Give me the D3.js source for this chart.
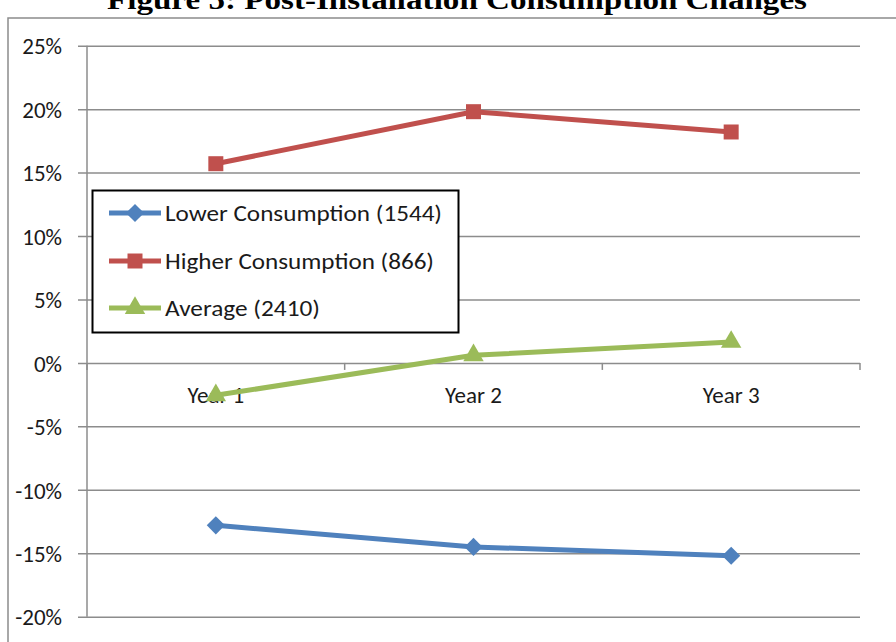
<!DOCTYPE html>
<html>
<head>
<meta charset="utf-8">
<script src="https://cdn.jsdelivr.net/npm/d3@7"></script>
<style>
  html, body { margin: 0; padding: 0; background: #fff; }
  svg { display: block; }
</style>
</head>
<body>
<svg id="chart" width="896" height="642"></svg>
<script>
// Post-installation consumption change by year, three customer groups
const years = ["Year 1", "Year 2", "Year 3"];
const lowerConsumption = [-12.8, -14.5, -15.2];
const higherConsumption = [15.7, 19.8, 18.2];
const averageConsumption = [-2.55, 0.6, 1.65];
const seriesNames = ["Lower Consumption (1544)", "Higher Consumption (866)", "Average (2410)"];
const yTicks = [25, 20, 15, 10, 5, 0, -5, -10, -15, -20];
const chartTitle = "Figure 5: Post-Installation Consumption Changes";

const colors = ["#4F81BD", "#C0504D", "#9BBB59"];
const shapes = [d3.symbolDiamond2, d3.symbolSquare, d3.symbolTriangle];
const symbolSizes = [210, 225, 180];
const series = [lowerConsumption, higherConsumption, averageConsumption].map((vals, i) => ({
  name: seriesNames[i], color: colors[i], shape: shapes[i], size: symbolSizes[i],
  points: vals.map((v, j) => ({ year: years[j], value: v }))
}));

const svg = d3.select("#chart");
const font = "Calibri, Carlito, Lato, 'Open Sans', sans-serif";
const gridColor = "#8c8c8c";

const margin = { left: 87, right: 860, top: 45.7, bottom: 616.7 };
const x = d3.scaleBand().domain(years).range([margin.left, margin.right]);
const y = d3.scaleLinear().domain([-20, 25]).range([margin.bottom, margin.top]);

// Page title, running off the top of the page
svg.append("text")
  .attr("x", 457).attr("y", 9)
  .attr("text-anchor", "middle")
  .attr("font-family", "'Liberation Serif', 'Times New Roman', serif")
  .attr("font-weight", "bold")
  .attr("font-size", 28)
  .attr("textLength", 700)
  .attr("lengthAdjust", "spacingAndGlyphs")
  .attr("fill", "#000")
  .text(chartTitle);

// Chart frame
svg.append("rect")
  .attr("x", 8).attr("y", 18)
  .attr("width", 1000).attr("height", 1000)
  .attr("fill", "none")
  .attr("stroke", gridColor)
  .attr("stroke-width", 1.5);

// Horizontal gridlines with small left ticks
const yAxis = d3.axisLeft(y)
  .tickValues(yTicks)
  .tickSize(0)
  .tickFormat(d => d + "%");
const gy = svg.append("g")
  .attr("transform", `translate(${margin.left - 9},0)`)
  .call(yAxis);
gy.select(".domain").remove();
gy.selectAll(".tick line")
  .attr("x1", 0).attr("x2", margin.right - margin.left + 9)
  .attr("stroke", gridColor)
  .attr("stroke-width", 1.5);
gy.selectAll(".tick text")
  .attr("x", -16)
  .attr("dy", "0.36em")
  .attr("font-family", font)
  .attr("font-size", 23)
  .attr("fill", "#1a1a1a");

// Vertical axis line
svg.append("line")
  .attr("x1", margin.left).attr("x2", margin.left)
  .attr("y1", y(25)).attr("y2", y(-20))
  .attr("stroke", gridColor).attr("stroke-width", 1.5);

// Category axis along zero with boundary ticks
const bounds = years.map(d => x(d)).concat([margin.right]);
svg.append("g").selectAll("line").data(bounds).join("line")
  .attr("x1", d => d).attr("x2", d => d)
  .attr("y1", y(0)).attr("y2", y(0) + 7)
  .attr("stroke", gridColor).attr("stroke-width", 1.5);

svg.append("g").selectAll("text").data(years).join("text")
  .attr("x", d => x(d) + x.bandwidth() / 2)
  .attr("y", y(0) + 40)
  .attr("text-anchor", "middle")
  .attr("font-family", font)
  .attr("font-size", 23)
  .attr("fill", "#1a1a1a")
  .text(d => d);

// Series lines and markers
const line = d3.line()
  .x(d => x(d.year) + x.bandwidth() / 2)
  .y(d => y(d.value));

series.forEach(s => {
  svg.append("path")
    .datum(s.points)
    .attr("d", line)
    .attr("fill", "none")
    .attr("stroke", s.color)
    .attr("stroke-width", 5)
    .attr("stroke-linejoin", "round");
  svg.append("g").selectAll("path").data(s.points).join("path")
    .attr("transform", d => `translate(${x(d.year) + x.bandwidth() / 2},${y(d.value)})`)
    .attr("d", d3.symbol().type(s.shape).size(s.size))
    .attr("fill", s.color);
});

// Legend
const legend = svg.append("g");
legend.append("rect")
  .attr("x", 92.5).attr("y", 190.5)
  .attr("width", 366).attr("height", 142)
  .attr("fill", "#fff")
  .attr("stroke", "#000")
  .attr("stroke-width", 2);

const legendRows = [213, 261, 308];
const legendWidths = [277, 269, 155];
series.forEach((s, i) => {
  const ly = legendRows[i];
  legend.append("line")
    .attr("x1", 109).attr("x2", 161)
    .attr("y1", ly).attr("y2", ly)
    .attr("stroke", s.color).attr("stroke-width", 5);
  legend.append("path")
    .attr("transform", `translate(135,${ly})`)
    .attr("d", d3.symbol().type(s.shape).size(s.size))
    .attr("fill", s.color);
  legend.append("text")
    .attr("x", 165).attr("y", ly)
    .attr("dy", "0.36em")
    .attr("font-family", font)
    .attr("font-size", 23)
    .attr("textLength", legendWidths[i])
    .attr("lengthAdjust", "spacingAndGlyphs")
    .attr("fill", "#1a1a1a")
    .text(s.name);
});
</script>
</body>
</html>
